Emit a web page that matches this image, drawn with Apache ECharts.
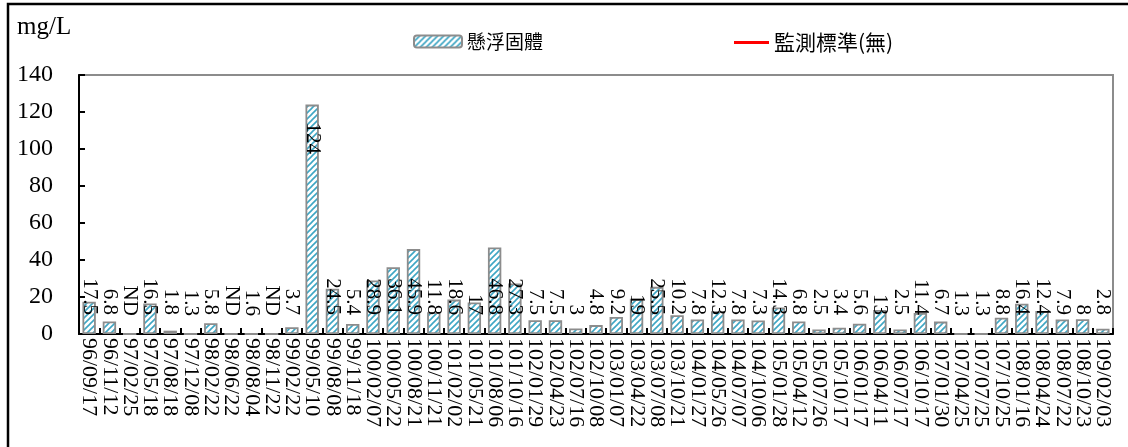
<!DOCTYPE html>
<html>
<head>
<meta charset="utf-8">
<script src="https://cdn.jsdelivr.net/npm/echarts@6/dist/echarts.min.js"></script>
<style>
html,body{margin:0;padding:0;background:#fff;}
#chart{width:1128px;height:447px;}
</style>
</head>
<body>
<div id="chart"></div>
<script>
// ---- data ----
var categories = ['96/09/17','96/11/12','97/02/25','97/05/18','97/08/18','97/12/08','98/02/22','98/06/22','98/08/04','98/11/22',
  '99/02/22','99/05/10','99/08/08','99/11/18','100/02/07','100/05/22','100/08/21','100/11/21','101/02/02','101/05/21',
  '101/08/06','101/10/16','102/01/29','102/04/23','102/07/16','102/10/08','103/01/07','103/04/22','103/07/08','103/10/21',
  '104/01/27','104/05/26','104/07/07','104/10/06','105/01/28','105/04/12','105/07/26','105/10/17','106/01/17','106/04/11',
  '106/07/17','106/10/17','107/01/30','107/04/25','107/07/25','107/10/25','108/01/16','108/04/24','108/07/22','108/10/23',
  '109/02/03'];
// plotted bar heights (ND / below-detection points show no bar)
var ssValues = [17.5,6.8,0,16.5,1.8,0,5.8,0,0,0,
  3.7,124,24.5,5.4,28.9,36.1,45.9,11.8,18.6,17,
  46.8,27.3,7.5,7.5,3,4.8,9.2,19,25.5,10.2,
  7.8,12.3,7.8,7.3,14.3,6.8,2.5,3.4,5.6,13,
  2.5,11.4,6.7,0,0,8.8,16.4,12.4,7.9,8,
  2.8];
// value labels as printed on the chart
var ssLabels = ['17.5','6.8','ND','16.5','1.8','1.3','5.8','ND','1.6','ND',
  '3.7','124','24.5','5.4','28.9','36.1','45.9','11.8','18.6','17',
  '46.8','27.3','7.5','7.5','3','4.8','9.2','19','25.5','10.2',
  '7.8','12.3','7.8','7.3','14.3','6.8','2.5','3.4','5.6','13',
  '2.5','11.4','6.7','1.3','1.3','8.8','16.4','12.4','7.9','8',
  '2.8'];
var seriesNames = ['懸浮固體','監測標準(無)'];
var standardValues = [];
var yTicks = {min:0, max:140, interval:20};
var unitLabel = 'mg/L';

// ---- hatch pattern ----
function makeHatch(){
  var s = 6;
  var c = document.createElement('canvas');
  c.width = s; c.height = s;
  var g = c.getContext('2d');
  g.fillStyle = '#ffffff'; g.fillRect(0,0,s,s);
  g.strokeStyle = '#3ea6c4'; g.lineWidth = 1.6;
  g.beginPath(); g.moveTo(-1,s+1); g.lineTo(s+1,-1); g.stroke();
  g.beginPath(); g.moveTo(-1,1); g.lineTo(1,-1); g.stroke();
  g.beginPath(); g.moveTo(s-1,s+1); g.lineTo(s+1,s-1); g.stroke();
  return c;
}
var hatch = {image: makeHatch(), repeat: 'repeat'};

var serifFont = '"Liberation Serif","Times New Roman",serif';
var cjkFont = '"Noto Sans CJK TC","Noto Sans CJK SC",sans-serif';

var barData = ssValues.map(function(v){
  if (v > 100) {
    return {value: v, label: {position: 'insideTop', distance: 18, align: 'left'}};
  }
  return {value: v};
});

var chart = echarts.init(document.getElementById('chart'), null, {renderer:'canvas'});
chart.setOption({
  animation: false,
  backgroundColor: '#ffffff',
  graphic: [
    {type:'rect', shape:{x:8, y:4, width:1140, height:470}, style:{fill:'none', stroke:'#000', lineWidth:2.5}, silent:true},
    {type:'text', left:17, top:15, style:{text: unitLabel, font:'25px ' + serifFont, fill:'#000'}}
  ],
  legend: [
    {data:[seriesNames[0]], left:408, top:27, itemWidth:48, itemHeight:12, itemGap:0,
      textStyle:{fontFamily:cjkFont, fontSize:19, color:'#000'}},
    {data:[{name:seriesNames[1], icon:'rect'}], left:729, top:27, itemWidth:35, itemHeight:3, itemGap:0,
      textStyle:{fontFamily:cjkFont, fontSize:21, color:'#000'}}
  ],
  grid: {left:79, right:15, top:75, bottom:113, show:true, borderColor:'#8c8c8c', borderWidth:2, backgroundColor:'transparent'},
  xAxis: {
    type:'category', data: categories,
    axisLine:{lineStyle:{color:'#000', width:2}},
    axisTick:{show:true, inside:true, length:6, interval:0, lineStyle:{color:'#000', width:2}},
    axisLabel:{interval:0, rotate:-90, margin:4, fontFamily:serifFont, fontSize:22, color:'#000'},
    splitLine:{show:false}
  },
  yAxis: {
    type:'value', min:yTicks.min, max:yTicks.max, interval:yTicks.interval,
    axisLine:{show:true, lineStyle:{color:'#000', width:2}},
    axisTick:{show:true, inside:true, length:6, lineStyle:{color:'#000', width:2}},
    axisLabel:{margin:26, fontFamily:serifFont, fontSize:24, color:'#000'},
    splitLine:{show:false}
  },
  series: [
    {
      name: seriesNames[0], type:'bar', data: barData, barWidth:'66%',
      itemStyle:{color: hatch, borderColor:'#8c8c8c', borderWidth:1.8},
      label:{show:true, position:'insideBottom', distance:19, rotate:-90, align:'right', verticalAlign:'middle',
        fontFamily:serifFont, fontSize:21, color:'#000',
        formatter:function(p){ return ssLabels[p.dataIndex]; }}
    },
    {
      name: seriesNames[1], type:'line', data: standardValues, symbol:'none',
      itemStyle:{color:'#ff0000'}, lineStyle:{color:'#ff0000', width:3}
    }
  ]
});
</script>
</body>
</html>
